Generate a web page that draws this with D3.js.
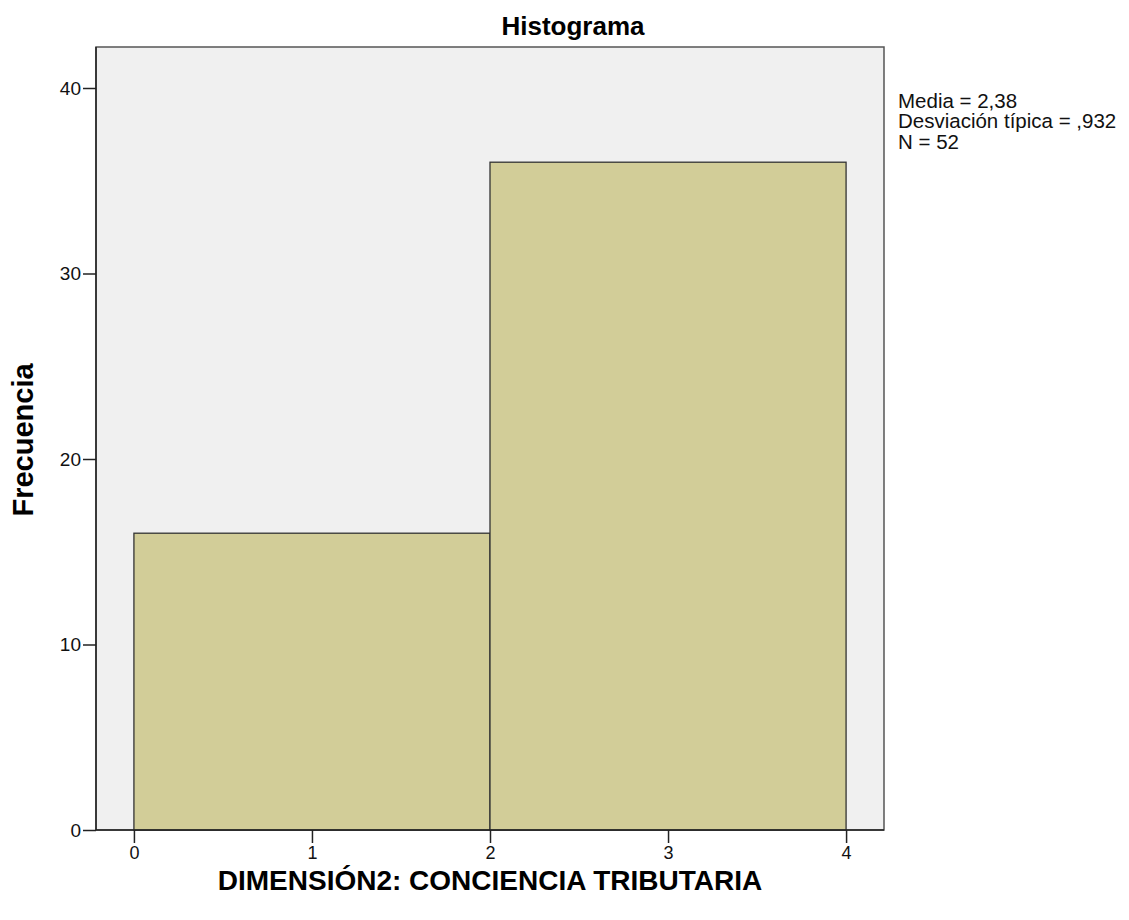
<!DOCTYPE html>
<html><head><meta charset="utf-8">
<script src="https://cdn.jsdelivr.net/npm/d3@7"></script>
<style>body{margin:0;background:#fff;} text{font-family:Arial,"Liberation Sans",sans-serif;}</style>
</head><body><svg id="c" width="1129" height="920"></svg>
<script>
const binEdges = [0, 2, 4];
const binCounts = [16, 36];
const xTicks = [0, 1, 2, 3, 4];
const yTicks = [0, 10, 20, 30, 40];
const title = "Histograma";
const xTitle = "DIMENSIÓN2: CONCIENCIA TRIBUTARIA";
const yTitle = "Frecuencia";
const stats = ["Media = 2,38", "Desviación típica = ,932", "N = 52"];

const svg = d3.select("#c");
const L = 96, R = 884, T = 47, B = 830;
const x = d3.scaleLinear().domain([-0.213, 4.213]).range([L, R]);
const y = d3.scaleLinear().domain([0, 40]).range([B, 88]);

svg.append("rect").attr("x", L).attr("y", T).attr("width", R - L).attr("height", B - T)
  .attr("fill", "#f0f0f0").attr("stroke", "#555").attr("stroke-width", 1.5);

const bins = binCounts.map((c, i) => ({x0: binEdges[i], x1: binEdges[i + 1], c}));
svg.selectAll("rect.bar").data(bins).enter().append("rect").attr("class", "bar")
  .attr("x", d => x(d.x0)).attr("width", d => x(d.x1) - x(d.x0))
  .attr("y", d => y(d.c)).attr("height", d => y(0) - y(d.c))
  .attr("fill", "#d2cd98").attr("stroke", "#333").attr("stroke-width", 1.3);

svg.append("line").attr("x1", L).attr("x2", L).attr("y1", T).attr("y2", B).attr("stroke", "#222").attr("stroke-width", 1.5);
svg.append("line").attr("x1", L).attr("x2", R).attr("y1", B).attr("y2", B).attr("stroke", "#222").attr("stroke-width", 1.5);

const xa = svg.append("g").attr("transform", `translate(0,${B})`)
  .call(d3.axisBottom(x).tickValues(xTicks).tickSize(13).tickPadding(3).tickFormat(d3.format("d")));
xa.select(".domain").remove();
xa.selectAll("line").attr("stroke", "#222").attr("stroke-width", 1.5);
xa.selectAll("text").style("font-size", "18px").attr("fill", "#111");

const ya = svg.append("g").attr("transform", `translate(${L},0)`)
  .call(d3.axisLeft(y).tickValues(yTicks).tickSize(13).tickPadding(2).tickFormat(d3.format("d")));
ya.select(".domain").remove();
ya.selectAll("line").attr("stroke", "#222").attr("stroke-width", 1.5);
ya.selectAll("text").style("font-size", "19px").attr("fill", "#111");

svg.append("text").attr("x", 573).attr("y", 35).attr("text-anchor", "middle")
  .style("font-size", "26px").attr("font-weight", "bold").text(title);
svg.append("text").attr("x", 490).attr("y", 890).attr("text-anchor", "middle")
  .style("font-size", "28px").attr("font-weight", "bold").text(xTitle);
svg.append("text").attr("transform", "translate(33,440) rotate(-90)").attr("text-anchor", "middle")
  .style("font-size", "29px").attr("font-weight", "bold").text(yTitle);

svg.append("g").selectAll("text").data(stats).enter().append("text")
  .attr("x", 898).attr("y", (d, i) => 107.5 + i * 20.7).style("font-size", "20.5px").attr("fill", "#111").text(d => d);
</script></body></html>
